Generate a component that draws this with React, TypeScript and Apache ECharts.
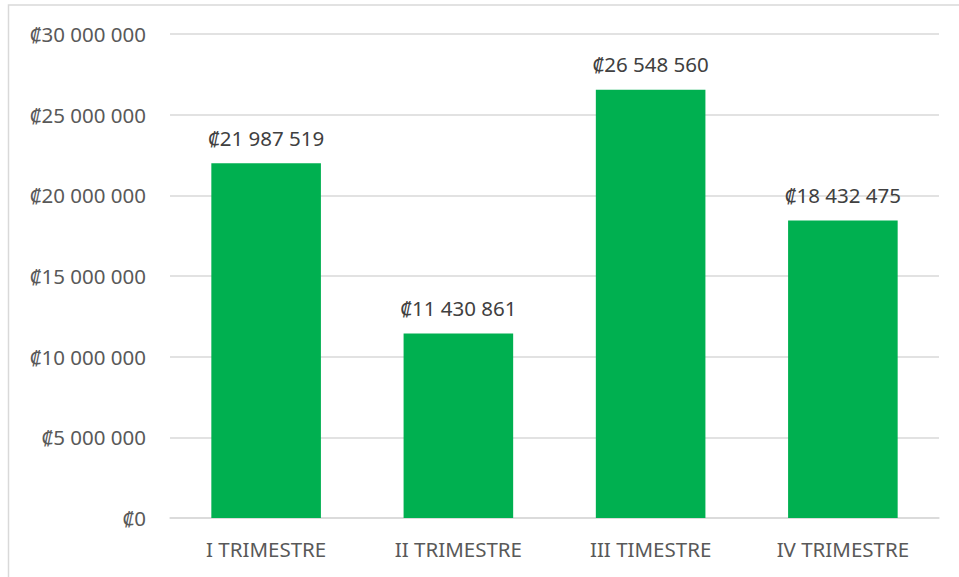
import React, { useEffect, useRef } from "react";
import * as echarts from "echarts";

const categories = ["I TRIMESTRE", "II TRIMESTRE", "III TIMESTRE", "IV TRIMESTRE"];
const values = [21987519, 11430861, 26548560, 18432475];
const yMin = 0;
const yMax = 30000000;
const yInterval = 5000000;

function fmt(v: number): string {
  const s = Math.round(v).toString().replace(/\B(?=(\d{3})+(?!\d))/g, " ");
  return "₡" + s;
}

const FONT = "Noto Sans";

export default function App() {
  const ref = useRef<HTMLDivElement>(null);
  useEffect(() => {
    document.body.style.margin = "0";
    const chart = echarts.init(ref.current!, null, { renderer: "svg" });
    chart.setOption({
      animation: false,
      backgroundColor: "#ffffff",
      textStyle: { fontFamily: FONT },
      graphic: [
        {
          type: "polyline",
          shape: { points: [[8.5, 577], [8.5, 5], [959, 5]] },
          style: { stroke: "#d9d9d9", lineWidth: 1.5, fill: "none" },
          silent: true,
        },
      ],
      grid: { left: 170, right: 20, top: 34, bottom: 59 },
      xAxis: {
        type: "category",
        data: categories,
        axisLine: { show: true, lineStyle: { color: "#d9d9d9", width: 1.5 } },
        axisTick: { show: false },
        axisLabel: { color: "#595959", fontSize: 20.5, margin: 20, fontFamily: FONT },
      },
      yAxis: {
        type: "value",
        min: yMin,
        max: yMax,
        interval: yInterval,
        axisLine: { show: false },
        axisTick: { show: false },
        splitLine: { lineStyle: { color: "#d9d9d9", width: 1.5 } },
        axisLabel: {
          color: "#595959",
          fontSize: 20.5,
          margin: 24,
          fontFamily: FONT,
          formatter: (v: number) => fmt(v),
        },
      },
      series: [
        {
          type: "bar",
          data: values,
          barCategoryGap: "43%",
          itemStyle: { color: "#00B050" },
          label: {
            show: true,
            position: "top",
            distance: 15,
            color: "#404040",
            fontSize: 20.5,
            fontFamily: FONT,
            formatter: (p: any) => fmt(p.value),
          },
        },
      ],
    });
    return () => chart.dispose();
  }, []);
  return <div ref={ref} style={{ position: "absolute", left: 0, top: 0, width: 959, height: 577 }} />;
}
